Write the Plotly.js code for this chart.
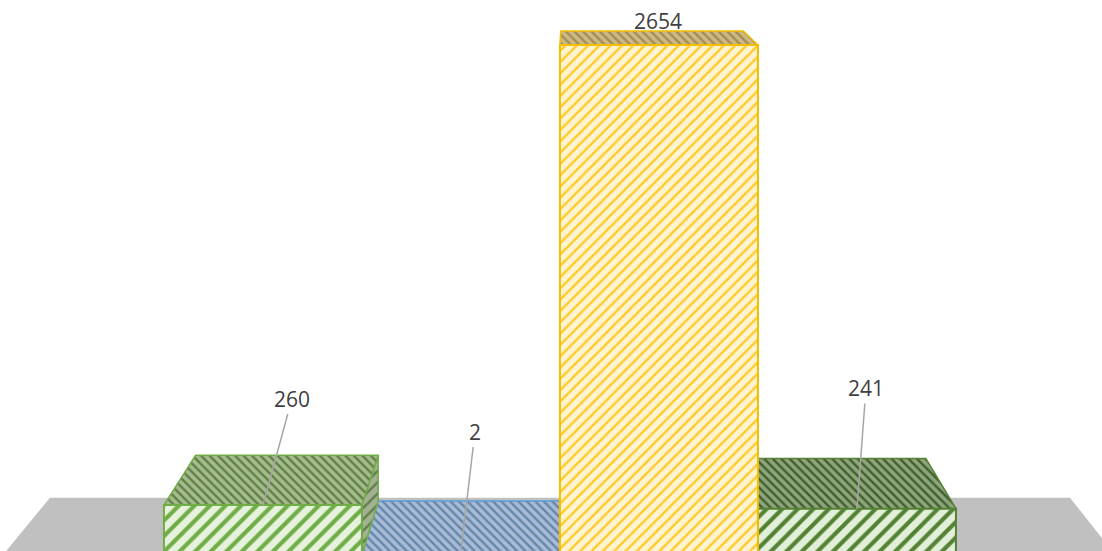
<!DOCTYPE html>
<html><head><meta charset="utf-8">
<script src="https://cdn.plot.ly/plotly-3.0.1.min.js"></script>
<style>html,body{margin:0;padding:0;background:#fff;overflow:hidden}#chart{width:1102px;height:551px}</style>
</head><body><div id="chart"></div>
<script>
// ---- data ----
const categories = ['Category 1', 'Category 2', 'Category 3', 'Category 4'];
const values = [260, 2, 2654, 241];
const valueLabels = ['260', '2', '2654', '241'];

// ---- styles ----
const frontBg  = ['#e6f2dc', '#dde8f3', '#fff4d2', '#e2f0d9'];
const frontFg  = ['#70ad47', '#5b9bd5', '#ffca28', '#548235'];
const topBg    = ['#a6bc8d', '#a9bcd3', '#cdb988', '#8fa57d'];
const topFg    = ['#5f7f48', '#6486ad', '#a48c50', '#3f5f2c'];
const sideBg   = ['#a3b092', '#9fb0c6', '#d8c48f', '#8c9c80'];
const edgeCol  = ['#70ad47', '#5b9bd5', '#f2be00', '#548235'];

// ---- geometry of the page / pseudo-3D projection ----
const W = 1102, H = 551;
const xLo = -1.328, xHi = xLo + W / 198;
const yLo = 20.8, yHi = 2888.2;
const pxX = W / (xHi - xLo), pxY = H / (yHi - yLo);
const VP = [1.55, 3585];   // vanishing point (data units)
const depth = 0.078;       // bar depth along the vision line
const floorDepth = 0.0827;
const barW = 1.0;

function back(p, s) { return [p[0] + (VP[0] - p[0]) * s, p[1] + (VP[1] - p[1]) * s]; }

const traces = [];
function poly(pts, bg, fg, shape, size, sol, line, lw) {
  const xs = pts.map(p => p[0]); const ys = pts.map(p => p[1]);
  xs.push(xs[0]); ys.push(ys[0]);
  const t = {
    type: 'scatter', mode: 'lines', x: xs, y: ys, fill: 'toself', fillcolor: bg,
    line: {color: line || bg, width: lw || 0.5}, hoverinfo: 'skip', showlegend: false
  };
  if (shape) t.fillpattern = {shape: shape, bgcolor: bg, fgcolor: fg, size: size, solidity: sol};
  traces.push(t);
}

// floor
(function () {
  const bL = [xLo + 50 / pxX, yLo + (H - 498) / pxY];
  const bR = [xLo + 1070 / pxX, yLo + (H - 498) / pxY];
  const fL = [(bL[0] - VP[0] * floorDepth) / (1 - floorDepth), (bL[1] - VP[1] * floorDepth) / (1 - floorDepth)];
  const fR = [(bR[0] - VP[0] * floorDepth) / (1 - floorDepth), (bR[1] - VP[1] * floorDepth) / (1 - floorDepth)];
  // extend forward well below the visible area
  const ext = (b, f) => [f[0] + (f[0] - b[0]) * 2, f[1] + (f[1] - b[1]) * 2];
  poly([bL, bR, ext(bR, fR), ext(bL, fL)], '#c0c0c0', null, null, 0, 0, '#c0c0c0', 0.5);
})();

function drawBar(i) {
  const v = values[i];
  const x0 = i - barW / 2, x1 = i + barW / 2;
  const fTL = [x0, v], fTR = [x1, v], fBL = [x0, 0], fBR = [x1, 0];
  const bTL = back(fTL, depth), bTR = back(fTR, depth), bBL = back(fBL, depth), bBR = back(fBR, depth);
  // side faces
  if (x1 < VP[0]) poly([fBR, fTR, bTR, bBR], sideBg[i], topFg[i], '/', 8, 0.3, edgeCol[i], 1.5);
  if (x0 > VP[0]) poly([fBL, fTL, bTL, bBL], sideBg[i], topFg[i], '/', 8, 0.3, edgeCol[i], 1.5);
  // top face
  poly([fTL, fTR, bTR, bTL], topBg[i], topFg[i], '\\', 6, 0.4, edgeCol[i], 1.5);
  // front face
  poly([fBL, fBR, fTR, fTL], frontBg[i], frontFg[i], '/', i === 2 ? 8 : 11, i === 2 ? 0.3 : 0.38, edgeCol[i], 2);
}
// draw far-from-front-most order: blue, green, dark green, yellow
[1, 0, 3, 2].forEach(drawBar);

// labels (pixel positions of the label centres)
const labelPix = [[292, 398.5], [475, 431.5], [658.5, 21.5], [866, 388]];
const annotations = values.map((v, i) => {
  const py = Math.max(v, yLo + 2);
  const ptPx = [(i - xLo) * pxX, H - (py - yLo) * pxY];
  const a = {
    x: i, y: py, xref: 'x', yref: 'y', text: valueLabels[i],
    font: {family: 'Open Sans, Liberation Sans, sans-serif', size: 21, color: '#404040'},
    showarrow: i !== 2, arrowhead: 0, arrowwidth: 1.5, arrowcolor: '#a6a6a6', standoff: 0,
    ax: labelPix[i][0] - ptPx[0], ay: labelPix[i][1] - ptPx[1]
  };
  if (i === 2) { a.xshift = labelPix[i][0] - ptPx[0]; a.yshift = ptPx[1] - labelPix[i][1]; }
  return a;
});

const layout = {
  width: W, height: H, margin: {l: 0, r: 0, t: 0, b: 0},
  paper_bgcolor: '#ffffff', plot_bgcolor: '#ffffff', showlegend: false,
  xaxis: {range: [xLo, xHi], visible: false, fixedrange: true},
  yaxis: {range: [yLo, yHi], visible: false, fixedrange: true},
  annotations: annotations
};
Plotly.newPlot('chart', traces, layout, {displayModeBar: false, staticPlot: true});
</script></body></html>
